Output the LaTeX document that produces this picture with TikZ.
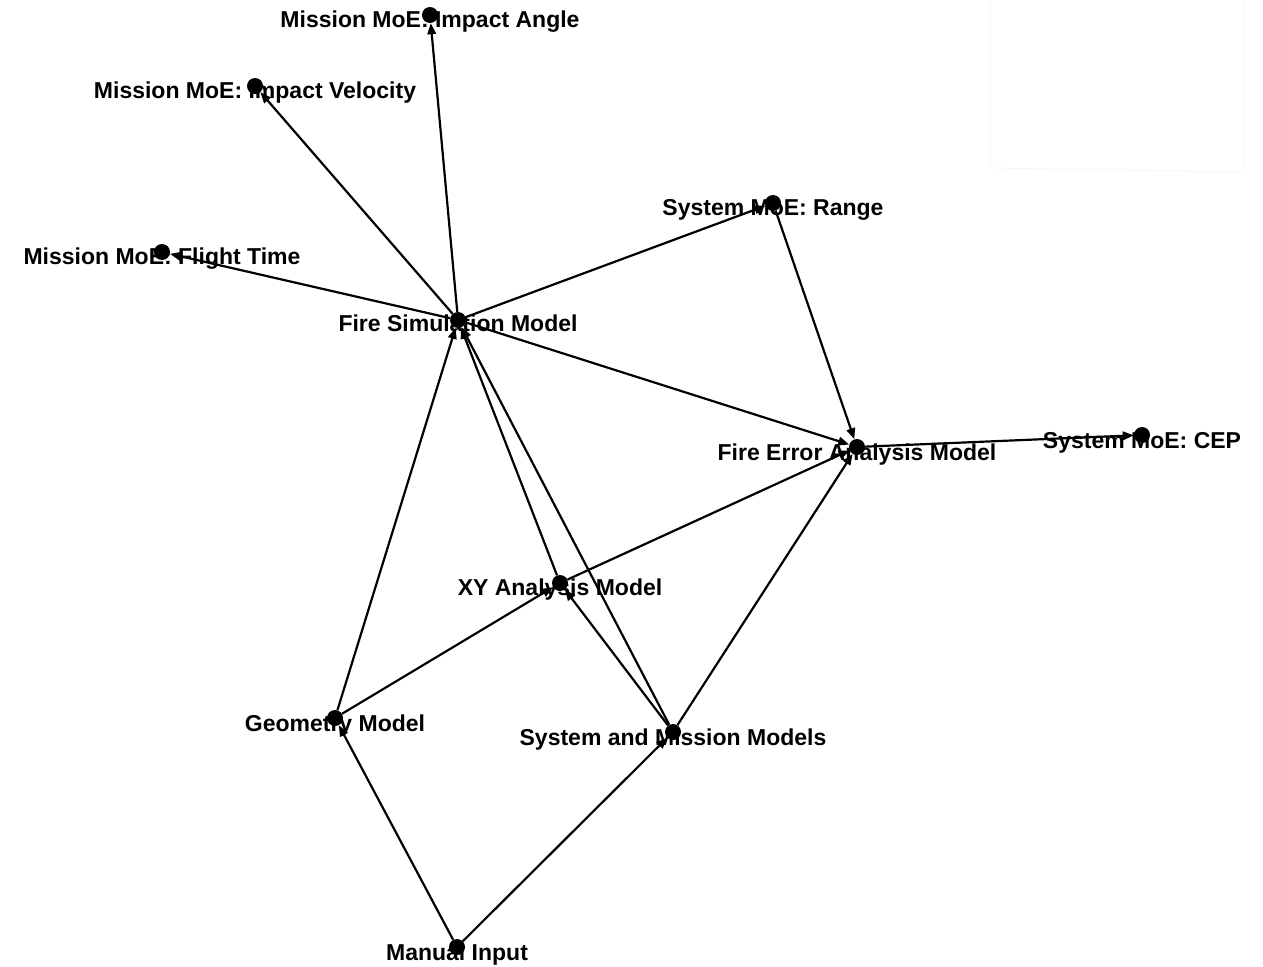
\documentclass[tikz,border=0pt]{standalone}
\usepackage{fontspec}
\setmainfont{Liberation Sans}
\usetikzlibrary{arrows.meta}
\begin{document}
\begin{tikzpicture}[x=1pt,y=-1pt,
  dot/.style={circle,fill=black,inner sep=0pt,minimum size=16pt},
  lbl/.style={anchor=base,inner sep=0pt,font=\fontsize{23}{23}\selectfont\bfseries},
  edge/.style={line width=2.2pt,-{Triangle[length=11pt,width=8.5pt]}}]
\useasboundingbox (0,0) rectangle (1263,966);
% faint frame in the upper right corner
\draw[black!3,line width=1pt] (990,0) -- (990,168) -- (1245,172) -- (1245,0);

% labels, baseline just below each vertex
\node[lbl] (ia-l)  at (430,28)  {Mission MoE: Impact Angle};
\node[lbl] (iv-l)  at (255,98)  {Mission MoE: Impact Velocity};
\node[lbl] (ft-l)  at (162,264) {Mission MoE: Flight Time};
\node[lbl] (rg-l)  at (773,215) {System MoE: Range};
\node[lbl] (fs-l)  at (458,331) {Fire Simulation Model};
\node[lbl] (fe-l)  at (857,460) {Fire Error Analysis Model};
\node[lbl] (cep-l) at (1142,448){System MoE: CEP};
\node[lbl] (xy-l)  at (560,595) {XY Analysis Model};
\node[lbl] (gm-l)  at (335,731) {Geometry Model};
\node[lbl] (sm-l)  at (673,745) {System and Mission Models};
\node[lbl] (mi-l)  at (457,960) {Manual Input};

% vertices
\node[dot] (ia)  at (430,15)  {};
\node[dot] (iv)  at (255,86)  {};
\node[dot] (ft)  at (162,252) {};
\node[dot] (rg)  at (773,203) {};
\node[dot] (fs)  at (458,320) {};
\node[dot] (fe)  at (857,447) {};
\node[dot] (cep) at (1142,435){};
\node[dot] (xy)  at (560,583) {};
\node[dot] (gm)  at (335,718) {};
\node[dot] (sm)  at (673,732) {};
\node[dot] (mi)  at (457,947) {};

% directed edges
\draw[edge] (fs) -- (ia);
\draw[edge] (fs) -- (iv);
\draw[edge] (fs) -- (ft);
\draw[edge] (fs) -- (rg);
\draw[edge] (fs) -- (fe);
\draw[edge] (rg) -- (fe);
\draw[edge] (fe) -- (cep);
\draw[edge] (xy) -- (fe);
\draw[edge] (sm) -- (fe);
\draw[edge] (xy) -- (fs);
\draw[edge] (sm) -- (fs);
\draw[edge] (gm) -- (fs);
\draw[edge] (sm) -- (xy);
\draw[edge] (gm) -- (xy);
\draw[edge] (mi) -- (gm);
\draw[edge] (mi) -- (sm);
\end{tikzpicture}
\end{document}
